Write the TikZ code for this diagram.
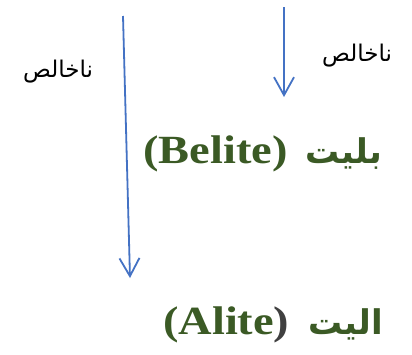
\documentclass[tikz,border=0pt]{standalone}
\usepackage{fontspec}
\setmainfont{Liberation Serif}
\newfontfamily\widefont[FakeStretch=1.16]{Liberation Serif}
\newfontfamily\arabicfont[Script=Arabic]{DejaVu Sans}
\TeXXeTstate=1
\usetikzlibrary{arrows.meta}
\definecolor{arrowblue}{HTML}{4472C4}
\definecolor{mingreen}{HTML}{3B5A25}
\definecolor{pargray}{HTML}{404040}
\begin{document}
\begin{tikzpicture}[x=1pt,y=-1pt,
  flow/.style={draw=arrowblue, line width=1.8pt, -{Straight Barb[length=18pt,width=20pt,line width=1.8pt]}},
  lbl/.style={font=\arabicfont\fontsize{23}{26}\selectfont, inner sep=0pt},
  latin/.style={font=\widefont\bfseries\fontsize{40}{44}\selectfont, text=mingreen, inner sep=0pt, anchor=base west},
  arab/.style={font=\arabicfont\bfseries\fontsize{34}{40}\selectfont, text=mingreen, inner sep=0pt, anchor=base east}]
\useasboundingbox (0,0) rectangle (412,354);
\fill[white] (0,0) rectangle (412,354);
\coordinate (l1) at (123,16);
\coordinate (l2) at (130,278);
\coordinate (r1) at (284,7);
\coordinate (r2) at (284,97);
\draw[flow] (l1) -- (l2);
\draw[flow] (r1) -- (r2);
\node[lbl] (labL) at (58,72) {\beginR ناخالص\endR};
\node[lbl] (labR) at (357,56) {\beginR ناخالص\endR};
\node[latin] (belL) at (143,163) {(Belite)};
\node[arab] (belA) at (382,163) {\beginR بلیت\endR};
\node[latin] (aliL) at (163,334) {(Alite\textcolor{pargray}{)}};
\node[arab] (aliA) at (383,334) {\beginR الیت\endR};
\end{tikzpicture}
\end{document}
